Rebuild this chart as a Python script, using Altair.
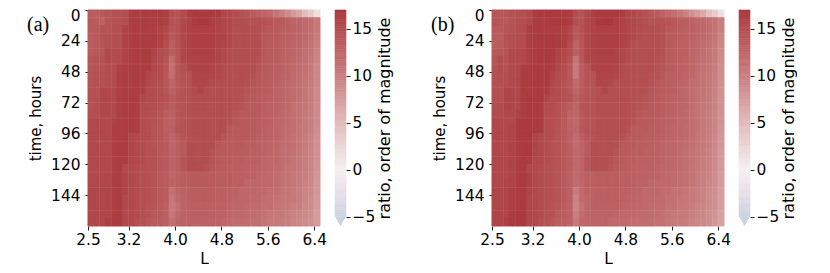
import altair as alt
import pandas as pd
import numpy as np

L_EDGES = [round(2.5 + 0.1 * i, 1) for i in range(40)]
T_EDGES = [6 * j for j in range(28)]
L_TICKS = [2.5, 3.2, 4.0, 4.8, 5.6, 6.4]
T_TICKS = [0, 24, 48, 72, 96, 120, 144]
CB_TICKS = [-5, 0, 5, 10, 15]
SEAM_L = [2.7, 2.9, 3.2, 3.4, 3.7, 4.0, 4.2, 4.7, 4.9, 5.0, 5.3, 5.5, 5.7, 5.9, 6.1, 6.2, 6.3, 6.4]
SEAM_T = [6, 18, 30, 42, 60, 72, 84, 102, 114, 126, 138, 156]
CALIBRATION = 1.06

A = [
[13.0,12.8,13.2,13.6,14.0,14.0,14.2,15.5,15.6,15.6,15.6,15.6,15.6,15.4,14.2,13.8,14.5,15.4,15.8,15.8,15.8,15.8,15.6,14.8,14.6,14.4,14.0,13.6,13.0,12.4,12.0,11.5,10.5,9.5,8.5,7.5,6.5,4.5,3.5,1.5],
[13.0,12.8,12.4,13.6,14.0,14.0,14.2,15.4,15.5,15.5,15.5,15.5,15.5,15.3,14.0,13.8,14.6,15.2,15.8,16.0,16.0,15.4,15.2,14.8,14.6,14.4,14.3,14.0,14.0,14.0,14.0,13.5,13.0,13.0,12.5,12.0,12.0,11.5,11.0,10.0],
[13.0,13.0,13.6,13.8,14.2,14.2,15.2,15.4,15.5,15.5,15.5,15.5,15.2,14.6,13.6,14.0,14.8,15.2,15.4,15.4,15.4,15.4,15.2,15.0,14.6,14.4,14.3,14.3,14.3,14.2,13.6,13.2,13.0,12.8,12.6,12.4,12.2,11.6,11.0,10.0],
[12.8,13.0,13.8,14.0,14.2,14.2,15.2,15.4,15.6,15.6,15.6,15.6,15.2,14.6,13.2,14.0,14.8,15.2,15.4,15.4,15.4,15.4,15.2,15.2,14.6,14.4,14.3,14.3,14.3,14.2,13.4,13.2,13.0,12.6,12.4,12.2,12.0,11.6,10.8,9.6],
[12.8,13.0,13.6,14.0,14.2,14.2,15.2,15.4,15.6,15.6,15.6,15.6,15.2,14.4,12.6,13.8,14.8,15.2,15.4,15.4,15.4,15.4,15.2,15.0,14.6,14.4,14.3,14.3,14.3,14.2,13.4,13.0,12.8,12.6,12.4,12.0,11.8,11.2,10.6,9.4],
[13.0,13.2,13.4,14.6,14.4,14.4,15.2,15.4,15.6,15.6,15.6,15.0,14.4,14.2,12.8,13.6,14.8,15.2,15.4,15.4,15.4,15.4,15.0,14.6,14.4,14.3,14.3,14.3,14.3,14.2,13.4,13.0,12.8,12.6,12.2,12.0,11.6,11.0,10.4,9.2],
[13.4,13.8,13.8,14.6,14.4,14.4,15.2,15.4,15.6,15.6,15.6,14.8,14.4,13.8,11.2,13.4,14.8,15.0,15.2,15.2,15.2,15.2,15.0,14.6,14.4,14.3,14.3,14.3,14.2,14.0,13.2,13.0,12.8,12.4,12.2,11.8,11.4,11.0,10.2,9.0],
[13.6,13.8,13.8,14.4,14.4,15.2,15.4,15.5,15.6,15.6,15.6,14.8,14.4,13.6,10.8,13.2,14.0,15.0,15.2,15.2,15.2,15.0,14.6,14.4,14.3,14.3,14.3,14.3,14.2,13.8,13.2,13.0,12.6,12.4,12.0,11.6,11.2,10.8,10.0,8.8],
[13.8,14.0,14.0,14.4,14.4,15.4,15.5,15.5,15.6,15.6,14.8,14.4,14.3,13.4,11.0,13.2,13.8,14.0,15.0,15.0,15.0,15.0,14.6,14.4,14.3,14.3,14.3,14.2,14.0,13.4,13.0,12.8,12.6,12.2,12.0,11.4,11.0,10.6,9.8,8.8],
[13.8,14.0,14.0,14.4,14.4,15.4,15.5,15.5,15.6,15.6,14.6,14.4,14.2,13.4,11.8,13.2,13.8,14.0,15.0,15.0,15.0,14.5,14.3,14.3,14.3,14.3,14.3,14.0,13.6,13.2,13.0,12.8,12.4,12.2,11.8,11.4,11.0,10.4,9.8,8.8],
[14.0,14.0,14.8,14.8,14.6,15.4,15.5,15.5,15.6,15.4,14.4,14.4,14.2,13.6,12.4,13.4,13.8,14.0,14.4,15.0,14.4,14.3,14.3,14.3,14.3,14.3,14.2,13.6,13.4,13.2,13.0,12.8,12.2,12.0,11.6,11.2,11.0,10.4,9.6,8.6],
[14.0,14.0,14.8,14.8,14.6,15.4,15.5,15.6,15.6,14.8,14.4,14.4,14.2,14.0,13.0,13.6,13.8,14.0,14.3,14.3,14.3,14.3,14.3,14.3,14.3,14.2,14.0,13.4,13.2,13.0,12.8,12.4,12.2,12.0,11.6,11.2,10.8,10.2,9.6,8.6],
[14.0,14.2,14.8,14.8,14.6,15.4,15.5,15.6,15.5,14.4,14.4,14.2,13.8,13.4,12.8,13.8,13.8,14.0,14.3,14.3,14.3,14.3,14.3,14.3,14.3,14.2,13.8,13.2,13.2,13.0,12.8,12.4,12.2,12.0,11.6,11.0,10.6,10.2,9.6,8.6],
[14.2,14.2,14.6,14.6,14.8,15.4,15.5,15.6,15.5,14.4,14.2,14.0,13.6,12.8,12.4,13.4,13.8,14.0,14.3,14.3,14.3,14.3,14.3,14.3,14.2,13.6,13.2,13.2,13.2,13.0,12.6,12.4,12.2,11.8,11.4,11.0,10.6,10.0,9.4,8.6],
[14.6,14.6,14.6,14.6,15.3,15.5,15.6,15.6,15.5,14.4,14.2,14.0,13.4,12.6,12.2,13.4,13.8,14.0,14.3,14.3,14.3,14.3,14.3,14.3,14.0,13.4,13.2,13.2,13.0,12.8,12.6,12.4,12.0,11.8,11.4,11.0,10.6,10.0,9.4,8.6],
[14.6,14.6,14.6,14.6,15.4,15.5,15.6,15.6,15.5,14.4,14.2,13.8,13.4,12.6,12.4,13.6,13.8,14.0,14.3,14.3,14.3,14.3,14.3,14.2,13.4,13.2,13.2,13.0,13.0,12.8,12.4,12.2,12.0,11.6,11.2,11.0,10.4,10.0,9.4,8.4],
[14.6,14.6,14.6,14.6,15.4,15.5,15.6,14.8,14.6,14.4,14.2,13.8,13.4,12.8,12.0,13.0,13.6,14.0,14.3,14.3,14.3,14.3,14.3,13.6,13.2,13.2,13.0,13.0,12.8,12.6,12.4,12.2,12.0,11.6,11.2,10.8,10.4,9.8,9.2,8.2],
[14.6,14.6,14.6,14.6,15.4,15.6,15.6,15.0,14.6,14.4,14.0,13.8,13.4,13.0,12.0,12.6,13.2,14.3,14.3,14.3,14.3,14.3,13.4,13.2,13.2,13.0,13.0,12.8,12.8,12.4,12.2,12.0,11.8,11.4,11.2,10.8,10.4,9.8,9.2,8.2],
[14.6,14.6,14.6,14.6,15.4,15.6,15.6,15.0,14.6,14.4,14.0,14.0,13.4,13.0,12.2,12.6,13.2,14.3,14.3,14.3,14.3,13.8,13.2,13.2,13.0,13.0,12.8,12.8,12.6,12.4,12.2,12.0,11.6,11.2,11.0,10.6,10.2,9.6,9.0,8.0],
[14.6,14.6,14.6,14.6,15.4,15.6,15.5,14.8,14.6,14.4,14.0,14.0,13.4,13.0,12.2,12.6,13.6,14.3,14.3,14.3,14.3,13.6,13.2,13.0,13.0,12.8,12.8,12.6,12.6,12.4,12.0,11.8,11.6,11.2,11.0,10.4,10.0,9.6,9.0,8.0],
[14.6,14.6,14.6,14.6,15.4,15.6,14.6,14.6,14.4,14.2,14.0,14.0,13.4,13.0,12.2,12.6,13.6,14.3,14.3,14.3,14.0,13.4,13.0,13.0,12.8,12.8,12.6,12.6,12.4,12.2,12.0,11.8,11.4,11.2,10.8,10.4,10.0,9.6,9.0,8.0],
[14.6,14.6,14.6,14.8,15.4,15.5,15.0,14.6,14.4,14.2,14.0,13.8,13.2,12.8,12.0,12.4,12.8,12.8,13.0,13.0,13.0,13.0,12.8,12.8,12.8,12.6,12.6,12.4,12.4,12.0,11.8,11.6,11.2,11.0,10.8,10.2,9.8,9.4,8.8,7.8],
[14.6,14.6,14.6,14.8,15.4,15.5,15.0,14.6,14.4,14.2,14.0,13.8,13.2,12.8,12.2,12.4,12.8,12.8,13.0,13.0,13.0,13.0,12.8,12.8,12.8,12.6,12.6,11.8,11.8,11.8,11.8,11.6,11.2,11.0,10.6,10.2,9.8,9.2,8.8,7.6],
[14.8,14.8,14.8,15.0,15.4,15.5,15.0,14.6,14.4,14.2,14.0,13.8,13.2,12.8,10.8,12.0,12.4,12.6,12.8,12.8,12.8,12.8,12.6,12.6,12.4,12.4,11.8,11.8,11.8,11.6,11.6,11.0,11.0,10.6,10.4,10.0,9.6,9.0,8.6,7.6],
[14.8,14.8,14.8,15.0,15.4,15.6,14.6,14.6,14.4,14.2,14.0,13.8,13.2,12.8,10.2,11.6,12.2,12.6,12.8,12.8,12.8,12.8,12.6,12.6,12.4,12.2,11.8,11.8,11.6,11.6,11.2,11.0,10.6,10.4,10.2,10.0,9.6,9.0,8.4,7.4],
[14.8,14.8,14.8,15.0,15.4,15.6,14.6,14.6,14.4,14.2,13.8,13.6,13.0,12.6,10.0,11.0,12.2,12.6,12.6,12.6,12.6,12.6,12.4,12.4,12.2,12.0,11.8,11.6,11.4,11.4,11.0,11.0,10.4,10.2,10.0,9.6,9.4,8.8,8.4,7.4],
[14.8,14.8,14.8,15.0,15.4,15.6,14.6,14.6,14.4,14.0,13.8,13.2,13.0,12.4,10.2,11.6,12.2,12.4,12.4,12.4,12.4,12.4,12.2,12.2,11.8,11.6,11.6,11.4,11.2,11.0,10.8,10.2,10.0,10.0,9.6,9.2,9.0,8.6,8.2,7.2],
[14.8,14.8,14.8,15.4,15.6,15.6,14.6,14.6,14.2,14.0,13.4,13.0,12.8,12.4,11.0,12.0,12.2,12.4,12.4,12.4,12.2,12.2,12.2,11.8,11.6,11.4,11.4,11.2,11.0,11.0,10.6,10.0,10.0,9.8,9.4,9.0,8.8,8.4,8.0,7.2],
]

B = [
[13.6,13.4,13.6,14.0,14.2,14.2,14.6,15.6,15.8,15.8,15.8,15.8,15.8,15.6,14.4,13.8,14.6,15.4,15.8,15.8,15.8,15.8,15.6,14.8,14.6,14.4,14.0,13.4,12.8,12.2,11.6,11.0,10.2,9.2,8.0,7.2,6.2,4.4,3.2,1.4],
[13.6,13.4,13.2,13.8,14.2,14.2,14.6,15.6,15.6,15.6,15.8,15.8,15.8,15.5,14.2,13.8,14.6,15.2,15.8,16.0,16.0,15.4,15.2,14.8,14.6,14.4,14.2,13.8,13.8,13.8,13.8,13.2,12.8,12.8,12.2,11.8,11.6,11.0,10.6,9.4],
[13.2,13.2,13.8,14.0,14.4,14.4,15.4,15.6,15.6,15.6,15.6,15.6,15.4,14.8,13.4,14.0,14.8,15.2,15.4,15.4,15.4,15.4,15.2,15.0,14.6,14.4,14.2,14.2,14.2,14.0,13.4,13.0,12.8,12.6,12.4,12.0,11.8,11.2,10.6,9.4],
[12.8,12.8,14.0,14.2,14.4,14.4,15.4,15.6,15.8,15.8,15.8,15.6,15.4,14.8,13.0,13.8,14.8,15.2,15.4,15.4,15.4,15.4,15.2,15.0,14.6,14.4,14.2,14.2,14.2,14.0,13.2,13.0,12.6,12.4,12.2,12.0,11.6,11.2,10.4,9.0],
[12.8,13.0,13.8,14.2,14.4,14.4,15.4,15.6,15.8,15.8,15.8,15.6,15.4,14.4,12.2,13.6,14.8,15.2,15.4,15.4,15.4,15.4,15.2,14.8,14.4,14.2,14.2,14.2,14.2,14.0,13.2,12.8,12.6,12.4,12.0,11.6,11.4,10.8,10.2,8.8],
[13.2,13.4,13.6,14.6,14.6,14.6,15.4,15.6,15.8,15.8,15.8,15.2,14.6,14.2,12.4,13.4,14.8,15.2,15.4,15.4,15.4,15.2,14.8,14.4,14.2,14.2,14.2,14.2,14.2,14.0,13.2,12.8,12.6,12.4,12.0,11.6,11.2,10.6,10.0,8.6],
[13.6,14.4,14.0,14.8,14.6,14.6,15.4,15.6,15.8,15.8,15.6,15.0,14.6,13.8,10.2,13.2,14.8,15.0,15.2,15.2,15.2,15.2,14.8,14.4,14.2,14.2,14.2,14.2,14.0,13.8,13.0,12.8,12.6,12.2,12.0,11.4,11.0,10.6,9.8,8.4],
[13.8,14.4,14.0,14.6,14.6,15.4,15.6,15.8,15.8,15.8,15.6,14.8,14.4,13.4,9.8,12.8,13.8,15.0,15.2,15.2,15.2,15.0,14.4,14.2,14.2,14.2,14.2,14.2,14.0,13.6,13.0,12.8,12.4,12.2,11.8,11.2,10.8,10.4,9.6,8.2],
[14.0,14.2,14.2,14.6,14.6,15.6,15.6,15.8,15.8,15.8,15.0,14.4,14.2,13.2,10.0,12.8,13.6,13.8,15.0,15.0,15.0,14.8,14.4,14.2,14.2,14.2,14.2,14.0,13.8,13.2,12.8,12.6,12.4,12.0,11.8,11.0,10.6,10.2,9.4,8.2],
[14.0,14.2,14.2,14.6,14.8,15.6,15.6,15.8,15.8,15.8,14.8,14.4,14.0,13.2,11.4,12.8,13.6,13.8,15.0,15.0,14.8,14.2,14.2,14.2,14.2,14.2,14.2,13.8,13.4,13.0,12.8,12.6,12.2,12.0,11.4,11.0,10.6,10.0,9.4,8.2],
[14.2,14.2,15.0,15.0,14.8,15.6,15.6,15.8,15.8,15.6,14.6,14.4,14.0,13.4,12.0,13.2,13.6,13.8,14.2,14.8,14.2,14.2,14.2,14.2,14.2,14.2,14.0,13.4,13.2,13.0,12.8,12.6,12.0,11.8,11.2,10.8,10.6,10.0,9.2,8.0],
[14.2,14.2,15.0,15.0,14.8,15.6,15.8,15.8,15.8,15.0,14.4,14.4,14.0,13.8,12.4,13.4,13.6,13.8,14.2,14.2,14.2,14.2,14.2,14.2,14.2,14.0,13.8,13.2,13.0,12.8,12.6,12.2,12.0,11.8,11.2,10.8,10.4,9.8,9.2,8.0],
[14.2,14.4,15.0,15.0,14.8,15.6,15.8,15.8,15.6,14.4,14.4,14.0,13.4,12.8,12.0,13.6,13.6,13.8,14.2,14.2,14.2,14.2,14.2,14.2,14.2,13.8,13.4,13.0,13.0,12.8,12.6,12.2,12.0,11.8,11.2,10.6,10.2,9.8,9.2,8.0],
[14.4,14.4,14.8,14.8,15.2,15.6,15.8,15.8,15.6,14.4,14.2,14.0,13.4,12.2,11.8,13.2,13.6,13.8,14.2,14.2,14.2,14.2,14.2,14.2,14.0,13.4,13.0,13.0,13.0,12.8,12.4,12.2,12.0,11.6,11.0,10.6,10.2,9.6,9.0,8.0],
[14.8,14.8,14.8,14.8,15.6,15.8,15.8,15.8,15.6,14.4,14.2,13.8,13.2,12.2,11.6,13.2,13.6,13.8,14.2,14.2,14.2,14.2,14.2,14.2,13.8,13.2,13.0,13.0,12.8,12.6,12.4,12.2,11.8,11.6,11.0,10.6,10.2,9.6,9.0,8.0],
[14.8,14.8,14.8,15.0,15.6,15.8,15.8,15.8,15.6,14.4,14.2,13.8,13.2,12.2,11.8,13.4,13.6,13.8,14.2,14.2,14.2,14.2,14.2,14.0,13.2,13.0,13.0,12.8,12.8,12.6,12.2,12.0,11.8,11.4,11.0,10.6,10.0,9.6,9.0,7.8],
[14.8,14.8,14.8,15.0,15.6,15.8,15.8,15.0,14.6,14.4,14.2,13.6,13.2,12.4,11.4,12.6,13.4,13.8,14.2,14.2,14.2,14.2,14.0,13.4,13.0,13.0,12.8,12.8,12.6,12.4,12.2,12.0,11.8,11.4,11.0,10.4,10.0,9.4,8.8,7.6],
[14.8,14.8,14.8,15.2,15.6,15.8,15.8,15.2,14.6,14.4,14.0,13.6,13.2,12.6,11.4,12.2,13.0,14.2,14.2,14.2,14.2,14.0,13.2,13.0,13.0,12.8,12.8,12.6,12.6,12.2,12.0,11.8,11.6,11.2,11.0,10.4,10.0,9.4,8.8,7.6],
[14.8,14.8,14.8,15.2,15.6,15.8,15.8,15.0,14.6,14.4,14.0,13.8,13.2,12.6,11.6,12.2,13.0,14.2,14.2,14.2,14.2,13.6,13.0,13.0,12.8,12.8,12.6,12.6,12.4,12.2,12.0,11.8,11.4,11.0,10.8,10.2,9.8,9.2,8.6,7.4],
[14.8,14.8,14.8,15.2,15.6,15.8,15.6,14.8,14.6,14.4,14.0,13.8,13.2,12.6,11.6,12.2,13.4,14.2,14.2,14.2,14.0,13.4,13.0,12.8,12.8,12.6,12.6,12.4,12.4,12.2,11.8,11.6,11.4,11.0,10.8,10.0,9.6,9.2,8.6,7.4],
[14.8,14.8,14.8,15.2,15.6,15.8,14.8,14.6,14.4,14.2,14.0,13.8,13.2,12.6,11.6,12.2,13.4,14.2,14.2,14.2,13.8,13.2,12.8,12.8,12.6,12.6,12.4,12.4,12.2,12.0,11.8,11.6,11.2,11.0,10.6,10.0,9.6,9.2,8.6,7.4],
[14.8,14.8,14.8,15.2,15.6,15.8,15.2,14.6,14.4,14.2,14.0,13.6,13.0,12.4,11.4,12.2,12.6,12.6,12.8,12.8,12.8,12.8,12.6,12.6,12.6,12.4,12.4,12.2,12.2,11.8,11.6,11.4,11.0,10.8,10.6,9.8,9.4,9.0,8.4,7.2],
[14.8,14.8,15.0,15.2,15.6,15.8,15.2,14.6,14.4,14.2,14.0,13.6,13.0,12.4,11.4,12.0,12.6,12.6,12.8,12.8,12.8,12.8,12.6,12.6,12.4,12.2,12.2,11.6,11.6,11.6,11.6,11.4,11.0,10.8,10.4,9.8,9.4,8.8,8.4,7.2],
[15.0,15.0,15.0,15.4,15.6,15.8,15.0,14.6,14.4,14.2,14.0,13.6,13.0,12.4,9.8,11.6,12.2,12.4,12.6,12.6,12.6,12.6,12.4,12.4,12.2,12.2,11.6,11.6,11.6,11.4,11.4,10.8,10.8,10.4,10.0,9.6,9.2,8.6,8.2,7.0],
[15.0,15.0,15.0,15.4,15.6,15.8,14.8,14.6,14.4,14.2,14.0,13.6,13.0,12.4,9.2,11.4,12.0,12.4,12.6,12.6,12.6,12.6,12.4,12.2,12.2,12.0,11.6,11.6,11.4,11.4,11.0,10.8,10.4,10.2,10.0,9.6,9.2,8.6,8.0,7.0],
[15.0,15.0,15.0,15.4,15.6,15.8,14.8,14.6,14.4,14.2,13.8,13.4,12.8,12.2,9.0,10.8,12.0,12.4,12.4,12.4,12.4,12.4,12.2,12.0,12.0,11.8,11.6,11.4,11.2,11.2,10.8,10.8,10.2,10.0,9.8,9.2,9.0,8.4,8.0,7.0],
[15.0,15.0,15.0,15.6,15.8,15.8,14.8,14.6,14.4,14.0,13.8,13.0,12.8,12.2,9.4,11.4,12.0,12.2,12.2,12.2,12.2,12.0,11.6,11.6,11.6,11.4,11.4,11.2,11.0,10.8,10.6,10.0,9.8,9.8,9.4,9.0,8.8,8.2,7.8,6.8],
[15.0,15.0,15.4,15.8,15.8,15.8,14.8,14.6,14.2,14.0,13.4,12.8,12.6,12.2,10.0,11.8,12.0,12.2,12.2,12.2,11.6,11.6,11.6,11.4,11.2,11.2,11.2,11.0,10.8,10.8,10.4,9.8,9.8,9.6,9.2,8.8,8.6,8.2,7.6,6.8],
]

SCALE = alt.Scale(domain=[-5, 0, 5, 10, 15, 17],
                  range=["#cbd3e1", "#f5f0f1", "#e2bcbc", "#c97f80", "#b34f52", "#a9373b"], clamp=True)
FS = 15.4
AXCOMMON = dict(labelFontSize=FS, domain=False, grid=False, tickColor="#222", labelFlush=False,
                labelColor="#000", titleColor="#000", titleFontWeight="normal", labelOverlap=False,
                labelFont="DejaVu Sans", titleFont="DejaVu Sans")
X_AXIS = alt.Axis(values=L_TICKS, format=".1f", tickSize=4, labelPadding=2, titlePadding=4,
                  titleFontSize=FS, **AXCOMMON)
Y_AXIS = alt.Axis(values=T_TICKS, tickSize=3, labelPadding=5, titlePadding=7, titleFontSize=15,
                  labelOffset=alt.ExprRef("datum.value == 0 ? 5.5 : 0"), **AXCOMMON)
CB_AXIS = alt.Axis(orient="right", values=CB_TICKS, tickSize=4, labelPadding=2, titlePadding=2,
                   titleFontSize=16, titleAngle=270, titleBaseline="top", **AXCOMMON)


def long(rows):
    rec = []
    for j, row in enumerate(rows):
        for i, v in enumerate(row):
            rec.append({"L": L_EDGES[i], "L2": round(L_EDGES[i] + 0.1, 1),
                        "t": T_EDGES[j], "t2": T_EDGES[j] + 6, "v": round(v * CALIBRATION, 2)})
    return pd.DataFrame(rec)


def panel(rows, tag):
    xs = alt.Scale(domain=[2.5, 6.5], nice=False, zero=False)
    ys = alt.Scale(domain=[168, 0], nice=False, zero=False)
    color = alt.Color("v:Q", scale=SCALE, legend=None)
    heat = alt.Chart(long(rows)).mark_rect(strokeWidth=1).encode(
        x=alt.X("L:Q", scale=xs, title="L", axis=X_AXIS),
        x2="L2:Q",
        y=alt.Y("t:Q", scale=ys, title="time, hours", axis=Y_AXIS),
        y2="t2:Q",
        color=color,
        stroke=color,
    )
    seam_x = alt.Chart(pd.DataFrame({"L": SEAM_L})).mark_rule(color="#fff", opacity=0.08, strokeWidth=1).encode(
        x=alt.X("L:Q", scale=xs, title="L", axis=X_AXIS))
    seam_y = alt.Chart(pd.DataFrame({"t": SEAM_T})).mark_rule(color="#fff", opacity=0.08, strokeWidth=1).encode(
        y=alt.Y("t:Q", scale=ys, title="time, hours", axis=Y_AXIS))
    label = alt.Chart(pd.DataFrame({"s": [tag]})).mark_text(
        font="Liberation Serif", fontSize=20, align="left", baseline="middle", color="#000"
    ).encode(x=alt.value(-61), y=alt.value(15), text="s:N")
    return alt.layer(heat, seam_x, seam_y, label).properties(width=232, height=216)


def colorbar():
    levels = np.round(np.arange(-5, 17, 0.25), 2)
    df = pd.DataFrame({"a": 0.0, "b": 1.0, "v0": levels, "v1": levels + 0.25, "v": levels + 0.125})
    xs = alt.Scale(domain=[0, 1], nice=False, zero=False)
    ys = alt.Scale(domain=[-6, 17], nice=False, zero=False)
    color = alt.Color("v:Q", scale=SCALE, legend=None)
    bar = alt.Chart(df).mark_rect(strokeWidth=0.6).encode(
        x=alt.X("a:Q", scale=xs, axis=None), x2="b:Q",
        y=alt.Y("v0:Q", scale=ys, title="ratio, order of magnitude", axis=CB_AXIS),
        y2="v1:Q", color=color, stroke=color,
    )
    tip = pd.DataFrame({"x": [0, 0.5, 1], "y": [-5, -6, -5], "y2": [-5, -5, -5]})
    tri = alt.Chart(tip).mark_area(color="#cbd3e1").encode(
        x=alt.X("x:Q", scale=xs, axis=None),
        y=alt.Y("y:Q", scale=ys, title="ratio, order of magnitude", axis=CB_AXIS), y2="y2:Q")
    return alt.layer(bar, tri).properties(width=11, height=216)


left = alt.hconcat(panel(A, "(a)"), colorbar(), spacing=7)
right = alt.hconcat(panel(B, "(b)"), colorbar(), spacing=7)
chart = alt.hconcat(left, right, spacing=38).properties(
    padding={"left": 19, "top": 0, "right": 0, "bottom": 0}
).configure_view(stroke=None)

chart.save("out.html", embed_options={"renderer": "svg", "actions": False})
